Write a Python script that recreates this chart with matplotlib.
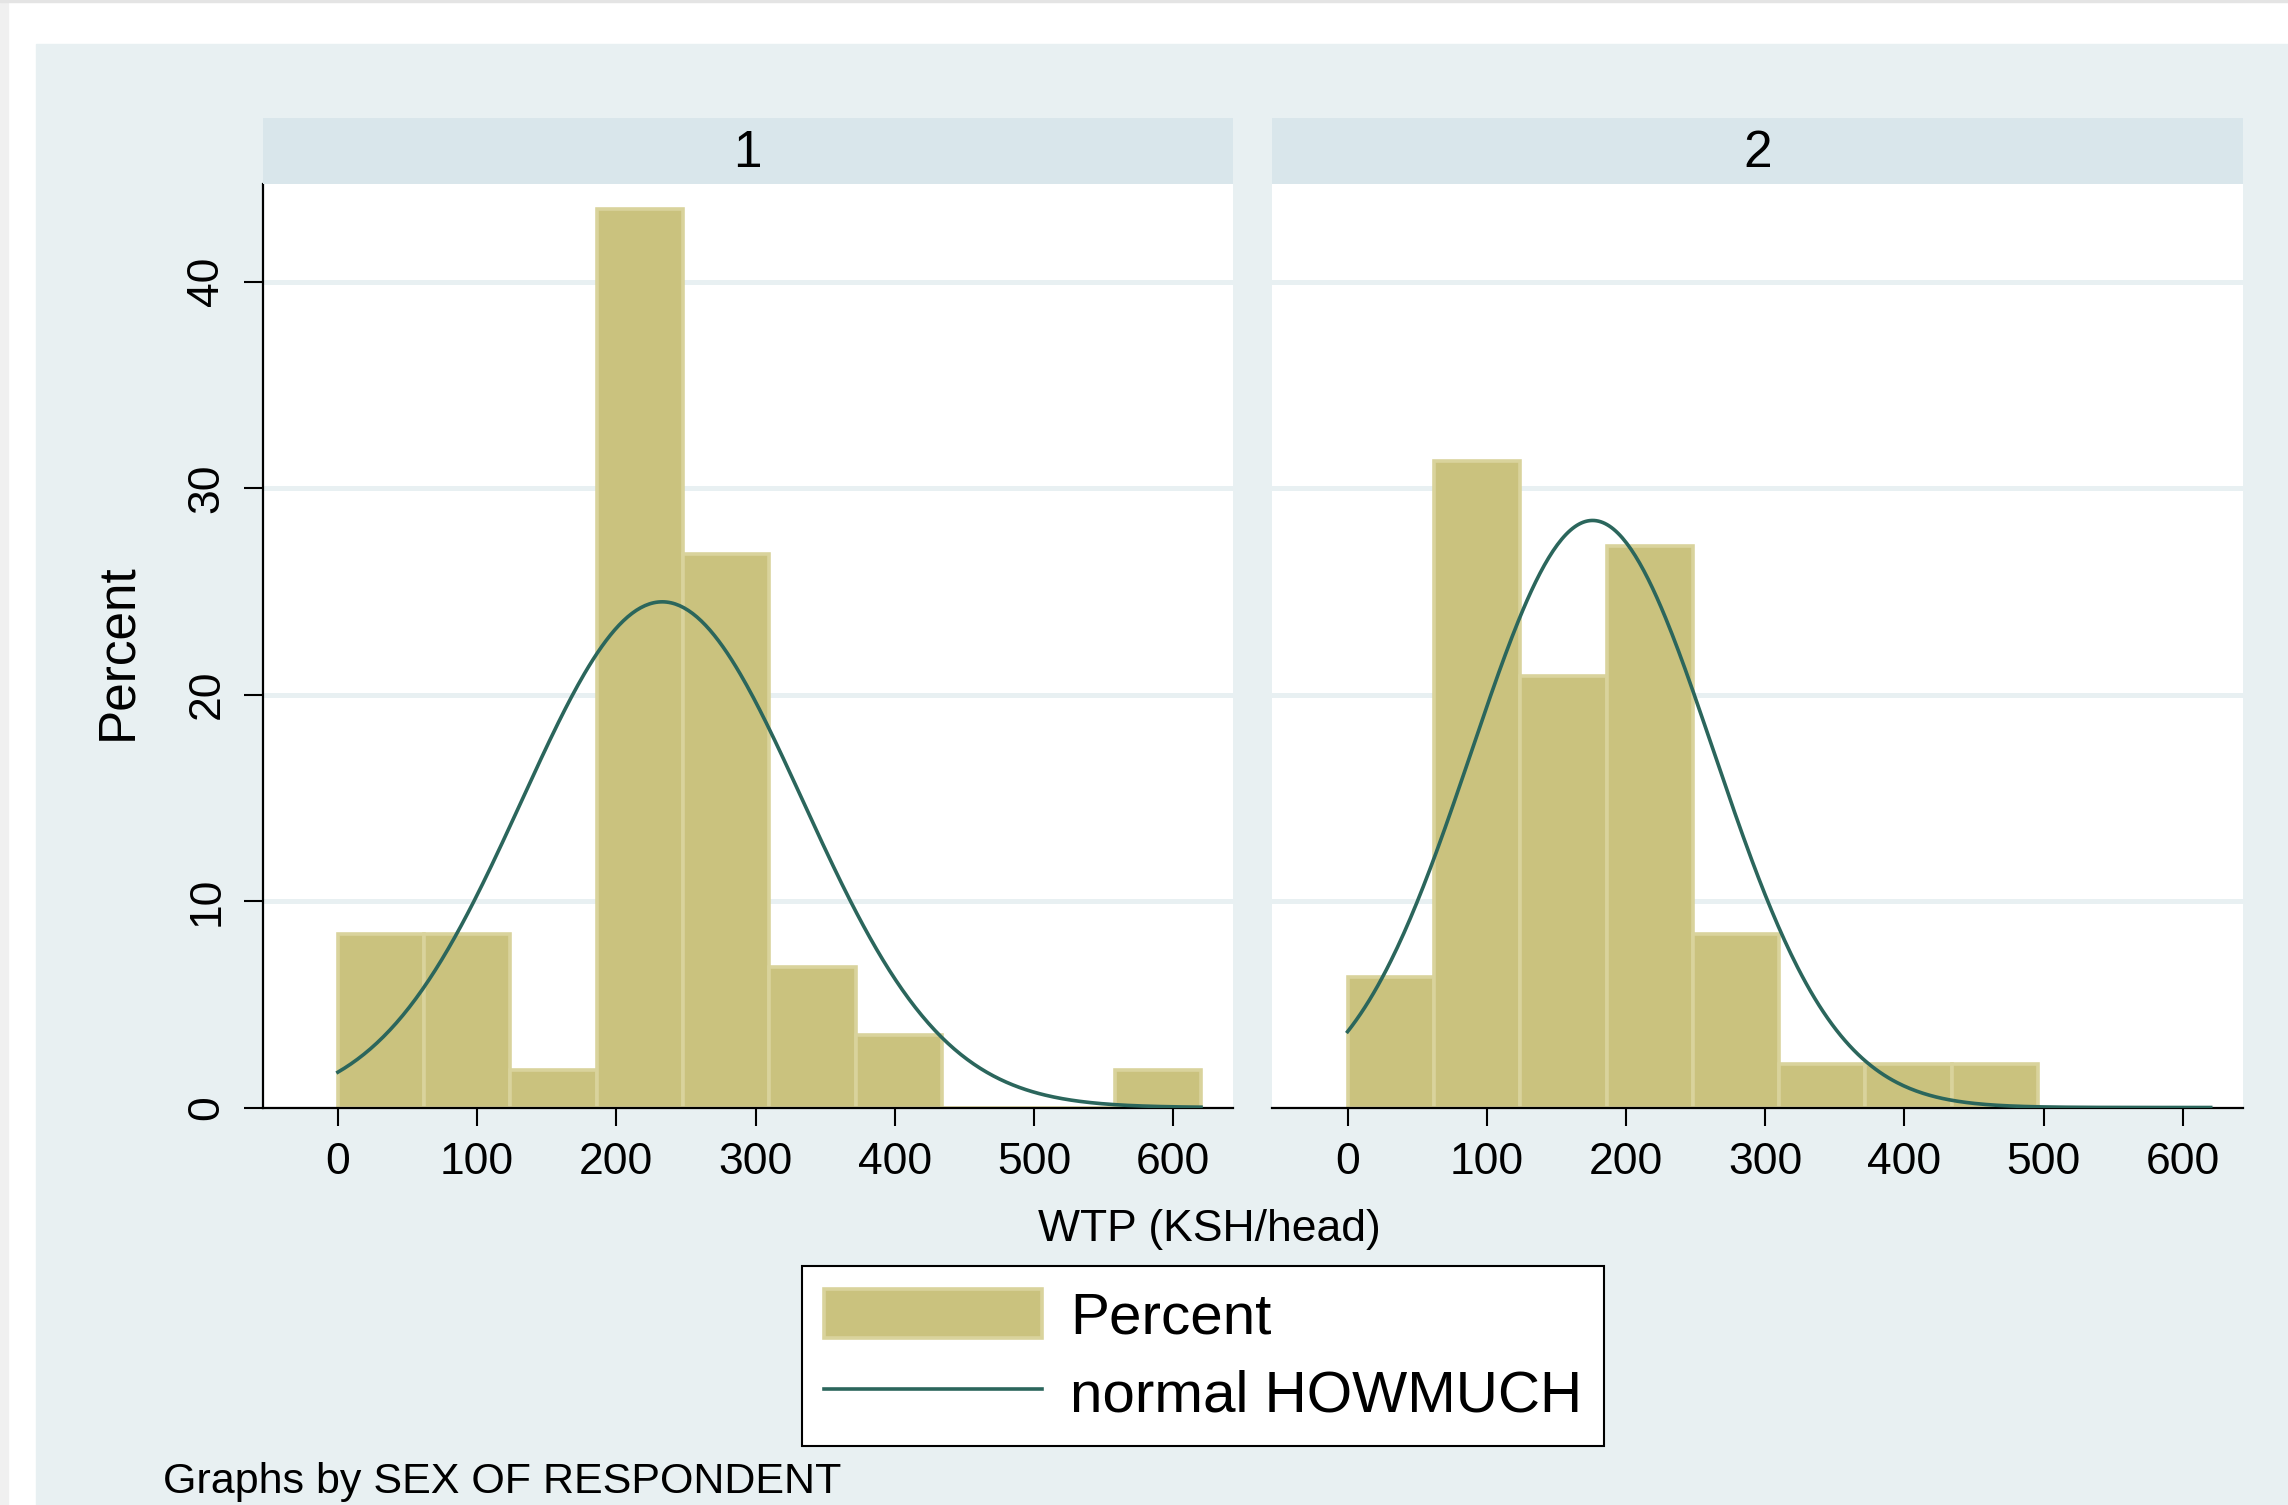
import numpy as np
import matplotlib.pyplot as plt
from matplotlib.patches import Rectangle

plt.rcParams['font.family'] = ['Liberation Sans', 'DejaVu Sans']

# histogram bins (KSH/head) and percent per bin, by sex
bin_edges = [0, 62, 124, 186, 248, 310, 372, 434, 496, 558, 620]
pct_sex1 = [8.4, 8.4, 1.8, 43.5, 26.8, 6.8, 3.5, 0, 0, 1.8]
pct_sex2 = [6.3, 31.3, 20.9, 27.2, 8.4, 2.1, 2.1, 2.1, 0, 0]

# fitted normal for HOWMUCH in each panel
mean_sex1, sd_sex1 = 233, 101
mean_sex2, sd_sex2 = 176, 87

panel_labels = ['1', '2']
x_ticks = [0, 100, 200, 300, 400, 500, 600]
y_ticks = [0, 10, 20, 30, 40]

W, H = 2288, 1505
bar_fill = '#cac27e'
bar_edge = '#d9d39c'
line_col = '#2b665c'
bg_col = '#e8f0f2'
strip_col = '#d9e6eb'

fig = plt.figure(figsize=(W / 100, H / 100), dpi=100)
fig.patch.set_facecolor('white')

# page edges and graph region
fig.add_artist(Rectangle((36 / W, 0), 1 - 36 / W, (H - 44) / H,
                         transform=fig.transFigure, color=bg_col, zorder=0))
fig.add_artist(Rectangle((0, 0), 8 / W, 1, transform=fig.transFigure,
                         color='#f0f0f0', zorder=0))
fig.add_artist(Rectangle((0, 1 - 2 / H), 1, 2 / H, transform=fig.transFigure,
                         color='#e4e4e4', zorder=0))

lefts = [262.7 / W, 1272.4 / W]
ax_w = 970.3 / W
ax_b = (H - 1107.5) / H
ax_h = (1107.5 - 183.9) / H
strip_b = 1 - 184 / H
strip_h = 66 / H

def normal_pct(x, m, s):
    width = bin_edges[1] - bin_edges[0]
    return 100 * width * np.exp(-0.5 * ((x - m) / s) ** 2) / (s * np.sqrt(2 * np.pi))

data = [(pct_sex1, mean_sex1, sd_sex1), (pct_sex2, mean_sex2, sd_sex2)]
handles = None
for i, (pct, m, s) in enumerate(data):
    ax = fig.add_axes([lefts[i], ax_b, ax_w, ax_h])
    ax.set_facecolor('white')
    for y in y_ticks[1:]:
        ax.axhline(y, color=bg_col, lw=3.6, zorder=1)
    bars = ax.bar(bin_edges[:-1], pct, width=np.diff(bin_edges), align='edge',
                  color=bar_fill, edgecolor=bar_edge, linewidth=2.6, zorder=2)
    xs = np.linspace(bin_edges[0], bin_edges[-1], 400)
    line, = ax.plot(xs, normal_pct(xs, m, s), color=line_col, lw=2.6, zorder=3)
    if handles is None:
        handles = [bars, line]

    ax.set_xlim(-54, 643)
    ax.set_ylim(0, 44.73)
    ax.set_xticks(x_ticks)
    ax.tick_params(axis='x', length=13, width=1.5, pad=12, labelsize=32)
    ax.spines['top'].set_visible(False)
    ax.spines['right'].set_visible(False)
    ax.spines['bottom'].set_linewidth(1.6)
    if i == 0:
        ax.set_yticks(y_ticks)
        ax.set_yticklabels([str(v) for v in y_ticks], rotation=90, va='center')
        ax.tick_params(axis='y', length=13.5, width=1.5, pad=12, labelsize=32)
        ax.spines['left'].set_linewidth(1.6)
    else:
        ax.spines['left'].set_visible(False)
        ax.set_yticks([])

    sax = fig.add_axes([lefts[i], strip_b, ax_w, strip_h])
    sax.set_facecolor(strip_col)
    for sp in sax.spines.values():
        sp.set_visible(False)
    sax.set_xticks([])
    sax.set_yticks([])
    sax.text(0.5, 0.46, panel_labels[i], ha='center', va='center', fontsize=37,
             transform=sax.transAxes)

fig.text(117.5 / W, 1 - 651.5 / H, 'Percent', rotation=90, ha='center',
         va='center', fontsize=37)
fig.text(1209 / W, 1 - 1230 / H, 'WTP (KSH/head)', ha='center', va='center',
         fontsize=32)
fig.text(163 / W, 0.008, 'Graphs by SEX OF RESPONDENT', ha='left',
         va='baseline', fontsize=31)

leg = fig.legend(handles, ['Percent', 'normal HOWMUCH'], loc='center',
                 bbox_to_anchor=(1203 / W, 1 - 1356 / H), frameon=True,
                 fancybox=False, edgecolor='black', framealpha=1, fontsize=42,
                 handlelength=3.74, handleheight=0.93, handletextpad=0.48,
                 labelspacing=0.36, borderpad=0.38)
leg.get_frame().set_linewidth(1.5)

fig.savefig('out.png', dpi=100)
